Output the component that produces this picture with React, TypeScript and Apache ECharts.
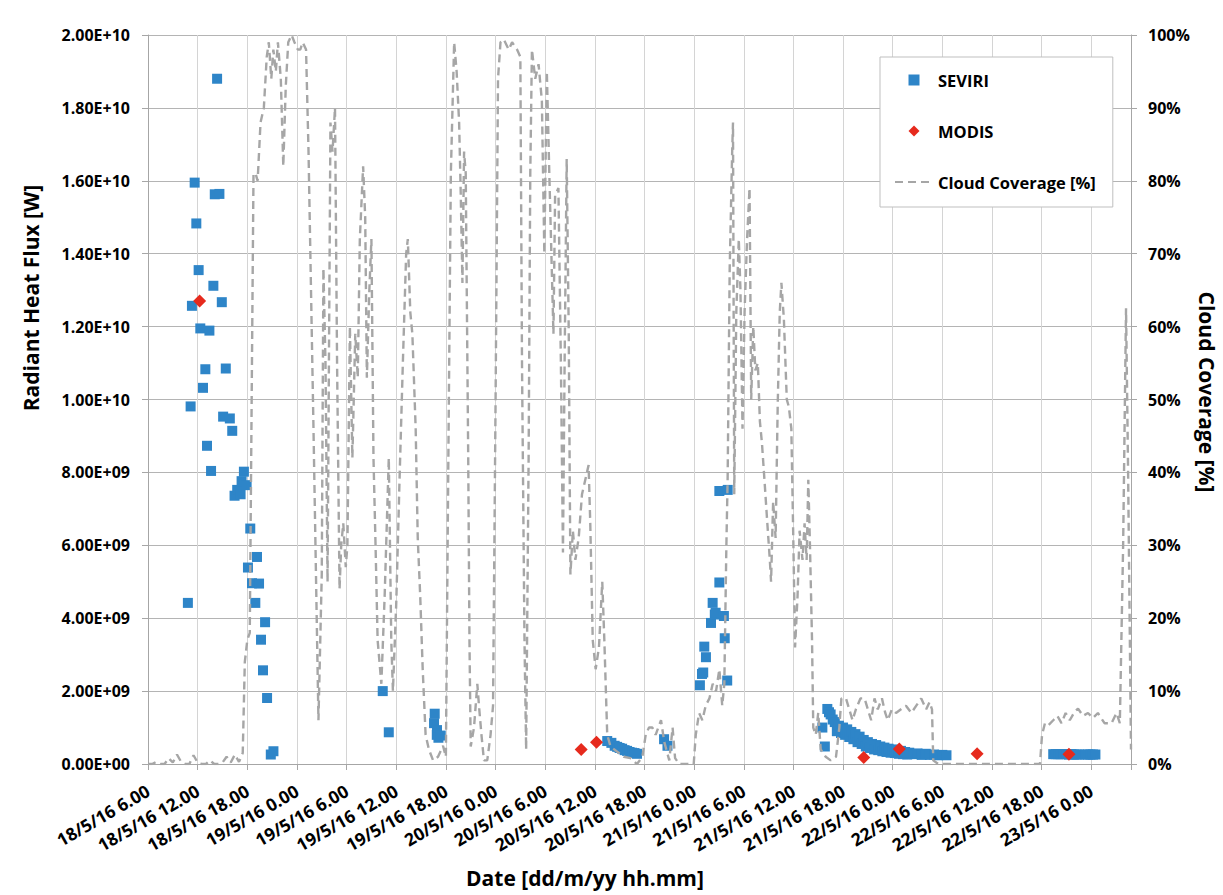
import React, { useEffect, useRef } from "react";
import * as echarts from "echarts";

// Time is expressed in hours since 18/5/16 00:00; flux values in units of 1E9 W.
const seviri: [number, number][] = [
  [10.82, 4.42], [11.15, 9.81], [11.31, 12.57], [11.64, 15.95], [11.84, 14.83],
  [12.12, 13.55], [12.32, 11.95], [12.65, 10.32], [12.93, 10.83], [13.13, 8.73],
  [13.42, 11.89], [13.62, 8.04], [13.9, 13.12], [14.07, 15.63], [14.35, 18.8],
  [14.63, 15.64], [14.92, 12.67], [15.08, 9.53], [15.4, 10.85], [15.89, 9.48],
  [16.18, 9.14], [16.46, 7.36], [16.78, 7.52], [17.19, 7.4], [17.31, 7.76],
  [17.59, 8.02], [17.92, 7.65], [18.08, 5.39], [18.36, 6.46], [18.57, 4.96],
  [18.97, 4.42], [19.17, 5.68], [19.42, 4.95], [19.66, 3.41], [19.9, 2.57],
  [20.15, 3.89], [20.39, 1.81], [20.84, 0.26], [21.16, 0.35],
  [34.37, 2.0], [35.1, 0.87],
  [40.57, 1.12], [40.65, 1.38], [40.9, 0.8], [40.93, 0.93], [41.1, 0.72], [41.38, 0.78],
  [61.5, 0.63], [62.0, 0.58], [62.4, 0.5], [62.7, 0.47], [63.0, 0.44], [63.3, 0.42],
  [63.6, 0.38], [63.9, 0.36], [64.2, 0.33], [64.5, 0.31], [64.8, 0.3], [65.1, 0.28],
  [68.37, 0.68], [68.78, 0.5],
  [72.7, 2.16], [72.95, 2.47], [73.1, 2.51], [73.23, 3.22], [73.43, 2.93], [74.04, 3.87],
  [74.24, 4.42], [74.5, 4.1], [74.6, 4.15], [75.05, 4.98], [75.05, 7.49], [75.6, 4.06],
  [75.7, 3.45], [76.0, 2.29], [76.06, 7.52],
  [87.5, 1.0], [87.8, 0.48], [88.1, 1.51], [88.3, 1.42], [88.5, 1.36], [88.75, 1.22],
  [89.0, 1.15], [89.25, 0.9], [89.5, 1.05], [89.75, 0.85], [90.0, 1.0], [90.25, 0.8],
  [90.5, 0.95], [90.75, 0.74], [91.0, 0.88], [91.25, 0.68], [91.5, 0.82], [91.75, 0.6],
  [92.0, 0.75], [92.25, 0.55], [92.5, 0.66], [92.75, 0.48], [93.0, 0.6], [93.25, 0.44],
  [93.5, 0.55], [93.75, 0.4], [94.0, 0.52], [94.25, 0.38], [94.5, 0.48], [94.75, 0.35],
  [95.0, 0.45], [95.25, 0.33], [95.5, 0.42], [95.75, 0.31], [96.0, 0.4], [96.25, 0.3],
  [96.5, 0.38], [96.75, 0.28], [97.0, 0.36], [97.25, 0.27], [97.5, 0.33], [97.75, 0.26],
  [98.0, 0.31], [98.5, 0.27], [99.0, 0.29], [99.5, 0.25], [100.0, 0.28], [100.5, 0.25],
  [101.0, 0.26], [101.5, 0.24], [102.0, 0.25], [102.5, 0.24],
  [115.4, 0.27], [115.7, 0.27], [116.0, 0.27], [116.3, 0.27], [116.6, 0.27], [117.0, 0.27],
  [117.3, 0.26], [117.6, 0.27], [117.9, 0.26], [118.2, 0.26], [118.5, 0.26], [119.3, 0.26],
  [119.6, 0.26], [119.9, 0.26], [120.2, 0.26], [120.5, 0.26],
];

const modis: [number, number][] = [
  [12.24, 12.7], [58.35, 0.4], [60.2, 0.6], [92.5, 0.18], [96.8, 0.41], [106.2, 0.28], [117.3, 0.27],
];

// Cloud coverage in percent
const cloud: [number, number][] = [
  [6.0, 0], [6.5, 0], [7.0, 0.3], [7.5, 0], [8.0, 0], [8.5, 0.8], [9.0, 0.2], [9.5, 1.3],
  [10.0, 0.3], [10.5, 0], [11.0, 0], [11.5, 1.2], [12.0, 0.2], [12.5, 0], [13.0, 0], [13.5, 0.5],
  [14.0, 0], [14.5, 0], [15.0, 0.2], [15.5, 1.0], [16.0, 0.2], [16.5, 1.3], [17.0, 0.3], [17.45, 1.5],
  [17.7, 14], [18.0, 17], [18.3, 18], [18.75, 81], [19.0, 81], [19.25, 80], [19.6, 88], [20.0, 90],
  [20.35, 97], [20.6, 99], [20.9, 94], [21.15, 98], [21.45, 95], [21.7, 99], [22.05, 94], [22.35, 82],
  [22.65, 93], [22.95, 99], [23.35, 100], [23.7, 99], [24.1, 98], [24.4, 98], [24.7, 99], [25.1, 98],
  [25.4, 84], [25.7, 65], [26.0, 46], [26.3, 26], [26.6, 6], [27.0, 26], [27.2, 68], [27.45, 55],
  [27.7, 25], [28.05, 88], [28.3, 84], [28.6, 90], [28.85, 55], [29.15, 24], [29.35, 30], [29.6, 33],
  [29.9, 27], [30.1, 30], [30.4, 60], [30.7, 42], [31.05, 59], [31.35, 53], [31.6, 72], [32.0, 82],
  [32.25, 75], [32.45, 53], [32.75, 65], [33.0, 72], [33.25, 42], [33.5, 30], [33.75, 17], [34.2, 11],
  [34.6, 23], [35.1, 42], [35.4, 17], [35.6, 10], [36.0, 22], [36.4, 39], [36.8, 55], [37.2, 70],
  [37.4, 72], [37.7, 62], [37.95, 59], [38.35, 46], [38.6, 31], [38.9, 23], [39.2, 13], [39.55, 4],
  [39.95, 2], [40.45, 0.5], [41.05, 1], [41.65, 2.5], [42.0, 1], [42.3, 42], [42.6, 81], [43.0, 99],
  [43.3, 95], [43.6, 88], [43.8, 78], [44.0, 66], [44.2, 84], [44.4, 81], [44.5, 68], [44.7, 42],
  [44.85, 17], [45.0, 2.4], [45.4, 5], [45.8, 11], [46.0, 8], [46.3, 4], [46.6, 0.5], [47.0, 0.5],
  [47.4, 4], [47.7, 8], [48.0, 49], [48.3, 94], [48.6, 99], [49.0, 99.4], [49.6, 98], [50.0, 99],
  [50.6, 98], [51.0, 97], [51.2, 55], [51.5, 17], [51.7, 2], [52.0, 42], [52.2, 81], [52.4, 98],
  [52.8, 94], [53.2, 96], [53.6, 91], [53.9, 70], [54.2, 95], [54.5, 81], [55.0, 59], [55.2, 78],
  [55.6, 79], [55.9, 55], [56.15, 29], [56.35, 55], [56.6, 83], [56.85, 59], [57.05, 26], [57.35, 32],
  [57.65, 28], [58.05, 31], [58.45, 37], [58.85, 39], [59.25, 41], [59.45, 33], [59.75, 17], [60.1, 13],
  [60.5, 16], [60.9, 25], [61.15, 17], [61.5, 4], [61.9, 2.4], [62.7, 1.7], [63.5, 1], [64.3, 0.8],
  [65.1, 0], [65.75, 1], [66.15, 4], [66.55, 5], [66.95, 5], [67.35, 4], [68.0, 6], [68.4, 3],
  [69.0, 0.5], [69.4, 5], [69.7, 0.8], [70.2, 0], [71.2, 0], [71.95, 0], [72.2, 4], [72.6, 7],
  [73.0, 6], [73.4, 8], [73.85, 9], [74.25, 11], [74.65, 10], [75.05, 13], [75.4, 8], [75.65, 11],
  [75.9, 30], [76.05, 39], [76.3, 68], [76.6, 84], [76.7, 88], [76.85, 37], [77.1, 62], [77.4, 72],
  [77.6, 65], [77.85, 46], [78.1, 62], [78.4, 72], [78.7, 79], [78.9, 50], [79.15, 60], [79.4, 54],
  [79.7, 55], [79.95, 47], [80.2, 44], [80.5, 39], [80.85, 33], [81.15, 28], [81.3, 25], [81.55, 36],
  [81.85, 31], [82.1, 49], [82.35, 62], [82.55, 66], [82.85, 61], [83.2, 50], [83.45, 49], [83.75, 46],
  [84.0, 30], [84.2, 16], [84.5, 23], [84.75, 32], [85.1, 28], [85.35, 33], [85.6, 28], [85.8, 39],
  [86.0, 30], [86.25, 17], [86.4, 5], [86.7, 4], [87.0, 7], [87.3, 2], [87.9, 1], [88.5, 0.5],
  [89.15, 1], [89.55, 5], [89.8, 9], [90.35, 9], [90.75, 7.5], [91.15, 6], [91.55, 7.5], [92.1, 9],
  [92.6, 9], [93.0, 7.5], [93.4, 6], [93.8, 9], [94.2, 7.5], [94.7, 9], [95.1, 7], [95.4, 6],
  [95.9, 7.5], [96.4, 7], [97.0, 7.5], [97.6, 8], [98.25, 7], [98.85, 8], [99.45, 9], [100.05, 7.5],
  [100.45, 8.5], [100.75, 7.5], [100.9, 0.5], [101.5, 0], [104.0, 0], [107.0, 0], [110.0, 0], [113.8, 0],
  [114.05, 4], [114.4, 5.6], [114.8, 5.3], [115.4, 6], [115.9, 6.6], [116.4, 5.6], [116.9, 7], [117.4, 6],
  [118.0, 7.2], [118.4, 7.6], [119.0, 6.6], [119.6, 7], [120.2, 6.3], [120.8, 7], [121.6, 5.6], [122.45, 5.6],
  [123.05, 7], [123.45, 5.6], [123.85, 30], [124.2, 62.5], [124.45, 40], [124.8, 2],
];

const xMin = 6;
const xMax = 124.8;
const FONT = "'Open Sans', Lato, sans-serif";

const sci = (v: number) => {
  if (v === 0) return "0.00E+00";
  const e = Math.floor(Math.log10(Math.abs(v)) + 1e-9);
  const m = v / Math.pow(10, e);
  return m.toFixed(2) + "E+" + (e < 10 ? "0" + e : String(e));
};

const fmtDate = (v: number) => {
  const r = v / 6;
  if (Math.abs(r - Math.round(r)) > 1e-6) return "";
  const dayOff = Math.floor((v + 1e-6) / 24);
  const h = Math.round(v - dayOff * 24);
  return `${18 + dayOff}/5/16 ${h}.00`;
};

const SQUARE = "path://M0 0H10V10H0Z";
const DIAMOND = "path://M5 0L10 5L5 10L0 5Z";

export default function App() {
  const ref = useRef<HTMLDivElement>(null);
  useEffect(() => {
    document.body.style.margin = "0";
    if (!ref.current) return;
    const chart = echarts.init(ref.current, undefined, { renderer: "svg" });
    const labelStyle = { fontFamily: FONT, fontWeight: "bold" as const, fontSize: 16, color: "#000" };
    const titleStyle = { fill: "#000", fontFamily: FONT, fontWeight: "bold", fontSize: 21, align: "center", verticalAlign: "middle" };
    chart.setOption({
      animation: false,
      backgroundColor: "#fff",
      grid: { left: 148, right: 92, top: 35, bottom: 131, containLabel: false },
      legend: {
        orient: "vertical",
        left: 880,
        top: 57,
        backgroundColor: "#fff",
        borderColor: "#BFBFBF",
        borderWidth: 1,
        borderRadius: 0,
        padding: [14, 17, 16, 14],
        itemWidth: 38,
        itemHeight: 11,
        itemGap: 33,
        textStyle: { ...labelStyle, fontSize: 16.5, lineHeight: 18 },
        data: [
          { name: "SEVIRI" },
          { name: "MODIS" },
          { name: "Cloud Coverage [%]", itemStyle: { opacity: 0 } },
        ],
      },
      xAxis: {
        type: "value",
        min: xMin,
        max: xMax,
        interval: 6,
        axisLine: { show: true, lineStyle: { color: "#A6A6A6", width: 1 } },
        axisTick: { show: true, length: 6, lineStyle: { color: "#A6A6A6" } },
        splitLine: { show: true, lineStyle: { color: "#D4D4D4", width: 1 } },
        axisLabel: { ...labelStyle, fontSize: 17.5, rotate: 30, margin: 25, formatter: fmtDate, hideOverlap: false },
      },
      yAxis: [
        {
          type: "value",
          position: "left",
          min: 0,
          max: 2e10,
          interval: 2e9,
          axisLine: { show: true, lineStyle: { color: "#A6A6A6" } },
          axisTick: { show: true, length: 6, lineStyle: { color: "#A6A6A6" } },
          splitLine: { show: true, lineStyle: { color: "#B4B4B4", width: 1 } },
          axisLabel: { ...labelStyle, margin: 18, formatter: sci },
        },
        {
          type: "value",
          position: "right",
          min: 0,
          max: 100,
          interval: 10,
          axisLine: { show: true, lineStyle: { color: "#A6A6A6" } },
          axisTick: { show: true, length: 6, lineStyle: { color: "#A6A6A6" } },
          splitLine: { show: false },
          axisLabel: { ...labelStyle, margin: 17, formatter: "{value}%" },
        },
      ],
      series: [
        {
          name: "SEVIRI",
          type: "scatter",
          yAxisIndex: 0,
          symbol: SQUARE,
          symbolKeepAspect: true,
          symbolSize: 10,
          itemStyle: { color: "#2E85C8", opacity: 1 },
          emphasis: { disabled: true },
          data: seviri.map(([h, f]) => [h, f * 1e9]),
        },
        {
          name: "MODIS",
          type: "scatter",
          yAxisIndex: 0,
          symbol: DIAMOND,
          symbolKeepAspect: true,
          symbolSize: 13,
          itemStyle: { color: "#E62A1D", opacity: 1 },
          emphasis: { disabled: true },
          data: modis.map(([h, f]) => [h, f * 1e9]),
        },
        {
          name: "Cloud Coverage [%]",
          type: "line",
          yAxisIndex: 1,
          symbol: "none",
          showSymbol: false,
          itemStyle: { color: "#A6A6A6" },
          lineStyle: { color: "#A6A6A6", width: 2.4, type: [8, 5] },
          emphasis: { disabled: true },
          data: cloud,
        },
      ],
      graphic: [
        { type: "text", x: 31, y: 298, rotation: Math.PI / 2, style: { ...titleStyle, text: "Radiant Heat Flux [W]" } },
        { type: "text", x: 1207, y: 392, rotation: -Math.PI / 2, style: { ...titleStyle, text: "Cloud Coverage [%]" } },
        { type: "text", x: 585, y: 878, style: { ...titleStyle, text: "Date [dd/m/yy hh.mm]" } },
      ],
    });
    return () => chart.dispose();
  }, []);
  return <div ref={ref} style={{ width: 1223, height: 895 }} />;
}
